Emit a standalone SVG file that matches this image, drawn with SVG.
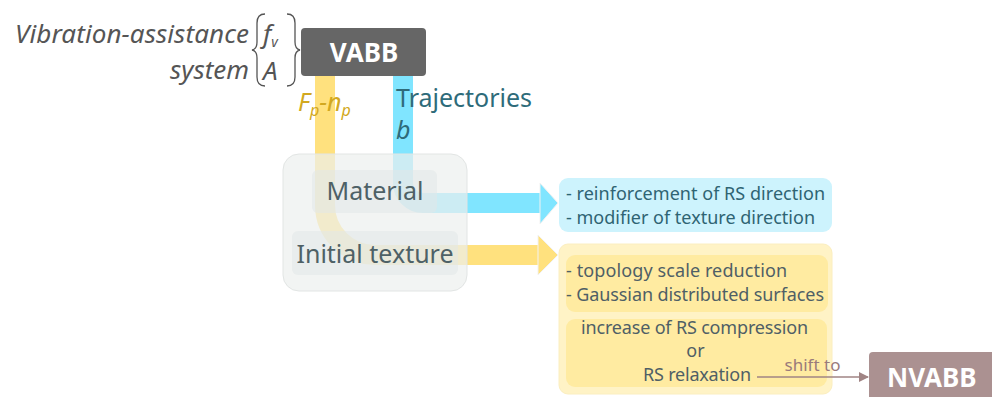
<svg xmlns="http://www.w3.org/2000/svg" width="992" height="397" viewBox="0 0 992 397">
<defs>
<style>
.f{font-family:"Noto Sans","Open Sans",sans-serif}
.it{font-style:italic}
.hdr{fill:#fff;font-weight:bold;font-size:26px}
.lab{fill:#4e6166;font-size:25px}
.bt{fill:#2f6473;font-size:18px}
.yt{fill:#4f5f66;font-size:18px}
</style>
<marker id="ah" viewBox="0 0 10 10" refX="9" refY="5" markerWidth="10" markerHeight="10" markerUnits="userSpaceOnUse" orient="auto">
<path d="M0,0 L10,5 L0,10 Z" fill="#a08484"/>
</marker>
</defs>
<rect width="992" height="397" fill="#fff"/>

<g id="labels-left">
<text class="f it" x="249" y="43" font-size="26" fill="#555" text-anchor="end" textLength="234">Vibration-assistance</text>
<text class="f it" x="249" y="79" font-size="26" fill="#555" text-anchor="end">system</text>
<path d="M265,14 Q257,14 257,23 V42 Q257,49 252,50 Q257,51 257,58 V77 Q257,86 265,86" fill="none" stroke="#555" stroke-width="1.3"/>
<path d="M287,14 Q295,14 295,23 V42 Q295,49 300,50 Q295,51 295,58 V77 Q295,86 287,86" fill="none" stroke="#555" stroke-width="1.3"/>
<text class="f it" x="263" y="43" font-size="26" fill="#555">f<tspan font-size="14" dy="4">v</tspan></text>
<text class="f it" x="263" y="80" font-size="26" fill="#555">A</text>
</g>

<g id="connectors">
<path d="M325,76 V205 A50,50 0 0 0 375,255 H540" fill="none" stroke="#FFE17E" stroke-width="20"/>
<polygon points="538,235 558,255 538,275" fill="#FFE17E" stroke="#f2f2f2" stroke-width="1"/>
<path d="M403,76 V183 A20,20 0 0 0 423,203 H541" fill="none" stroke="#80E5FF" stroke-width="20"/>
<polygon points="540,183 558,203 540,224" fill="#80E5FF" stroke="#f2f2f2" stroke-width="1"/>
<text class="f it" x="298" y="111" font-size="25" fill="#D2A820">F<tspan font-size="16" dy="5">p</tspan><tspan dy="-5">-n</tspan><tspan font-size="16" dy="5">p</tspan></text>
<text class="f" x="396" y="107" font-size="25" fill="#2E6B7A">Trajectories</text>
<text class="f it" x="396" y="139" font-size="25" fill="#2E6B7A">b</text>
</g>

<g id="vabb">
<rect x="301" y="28" width="125" height="48" rx="4" fill="#666"/>
<text class="f hdr" x="364" y="62" text-anchor="middle">VABB</text>
</g>

<g id="container">
<rect x="283" y="154" width="184" height="137" rx="16" fill="#ECEFEE" fill-opacity="0.7" stroke="#e2e5e4" stroke-width="1"/>
</g>
<g id="material">
<rect x="312" y="170" width="125" height="43" rx="6" fill="#E2E7E7" fill-opacity="0.55"/>
<text class="f lab" x="375" y="200" text-anchor="middle">Material</text>
</g>
<g id="initial-texture">
<rect x="292" y="231" width="166" height="44" rx="6" fill="#E2E7E7" fill-opacity="0.55"/>
<text class="f lab" x="375" y="263" text-anchor="middle">Initial texture</text>
</g>

<g id="blue-box">
<rect x="559" y="178" width="273" height="54" rx="9" fill="#CDF3FD"/>
<text class="f bt" x="566" y="200" textLength="259">- reinforcement of RS direction</text>
<text class="f bt" x="566" y="224" textLength="249">- modifier of texture direction</text>
</g>

<g id="yellow-box">
<rect x="559" y="244" width="273" height="150" rx="9" fill="#FFF3C6" stroke="#fbeec0" stroke-width="1"/>
<rect x="566" y="255" width="262" height="57" rx="9" fill="#FFEBA1"/>
<text class="f yt" x="566" y="277" textLength="221">- topology scale reduction</text>
<text class="f yt" x="566" y="301" textLength="258">- Gaussian distributed surfaces</text>
<rect x="566" y="319" width="261" height="68" rx="9" fill="#FFEBA1"/>
<text class="f yt" x="581" y="334" textLength="227">increase of RS compression</text>
<text class="f yt" x="695.5" y="357" text-anchor="middle">or</text>
<text class="f yt" x="643" y="381" textLength="108">RS relaxation</text>
</g>

<g id="nvabb">
<rect x="869" y="352" width="130" height="50" rx="4" fill="#AB9191"/>
<text class="f hdr" x="887" y="387">NVABB</text>
</g>

<g id="connector-shift">
<path d="M757,377 H868" fill="none" stroke="#a08484" stroke-width="1.5" marker-end="url(#ah)"/>
<text class="f" x="812.5" y="371" font-size="17" fill="#9a7b7b" text-anchor="middle">shift to</text>
</g>
</svg>
